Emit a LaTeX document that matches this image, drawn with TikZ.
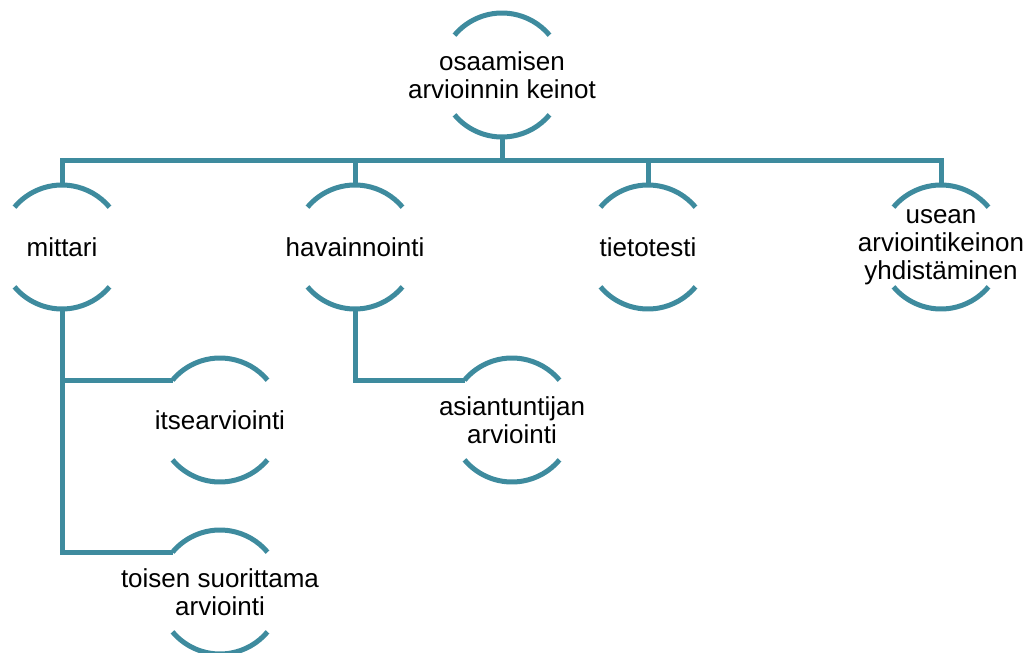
\documentclass[tikz,border=0pt]{standalone}
\usepackage{fontspec}
\setmainfont{Liberation Sans}
\usetikzlibrary{positioning}

\definecolor{rimteal}{RGB}{62,139,158}

\tikzset{
  halo/.style={circle, minimum size=124pt, inner sep=0pt, outer sep=0pt},
  caption/.style={align=center, font=\fontsize{26}{28}\selectfont, text=black},
  rim/.style={draw=rimteal, line width=5pt},
  link/.style={draw=rimteal, line width=5pt},
}

\begin{document}
\begin{tikzpicture}[x=1pt, y=1pt, node distance=169pt]
  \useasboundingbox (0,0) rectangle (1034,-653);

  \node[halo, label={[caption]center:osaamisen\\arvioinnin keinot}] (keinot) at (502,-75) {};

  \node[halo, label={[caption]center:mittari}] (mittari) at (62,-247) {};
  \node[halo, label={[caption]center:havainnointi}] (havainnointi) [right=of mittari] {};
  \node[halo, label={[caption]center:tietotesti}] (tietotesti) [right=of havainnointi] {};
  \node[halo, label={[caption]center:usean\\arviointikeinon\\yhdistäminen}] (usean) [right=of tietotesti] {};

  \node[halo, label={[caption]center:itsearviointi}] (itse) [below=49pt of mittari, xshift=158pt] {};
  \node[halo, label={[caption]center:toisen suorittama\\arviointi}] (toisen) [below=48pt of itse] {};
  \node[halo, label={[caption]center:asiantuntijan\\arviointi}] (asiantuntija) [below=49pt of havainnointi, xshift=157pt] {};

  % open rims round every node
  \foreach \n in {keinot,mittari,havainnointi,tietotesti,usean,itse,toisen,asiantuntija}{
    \draw[rim] (\n.140) arc[start angle=140, end angle=40, radius=62pt];
    \draw[rim] (\n.220) arc[start angle=220, end angle=320, radius=62pt];
  }

  \draw[link] (keinot.south) -- ++(0,-23) coordinate (hub);
  \foreach \n in {mittari,havainnointi,tietotesti,usean}
    \draw[link] (hub) -| (\n.north);

  \draw[link] (mittari.south) |- (itse.140);
  \draw[link] (mittari.south) |- (toisen.140);
  \draw[link] (havainnointi.south) |- (asiantuntija.140);

\end{tikzpicture}
\end{document}
